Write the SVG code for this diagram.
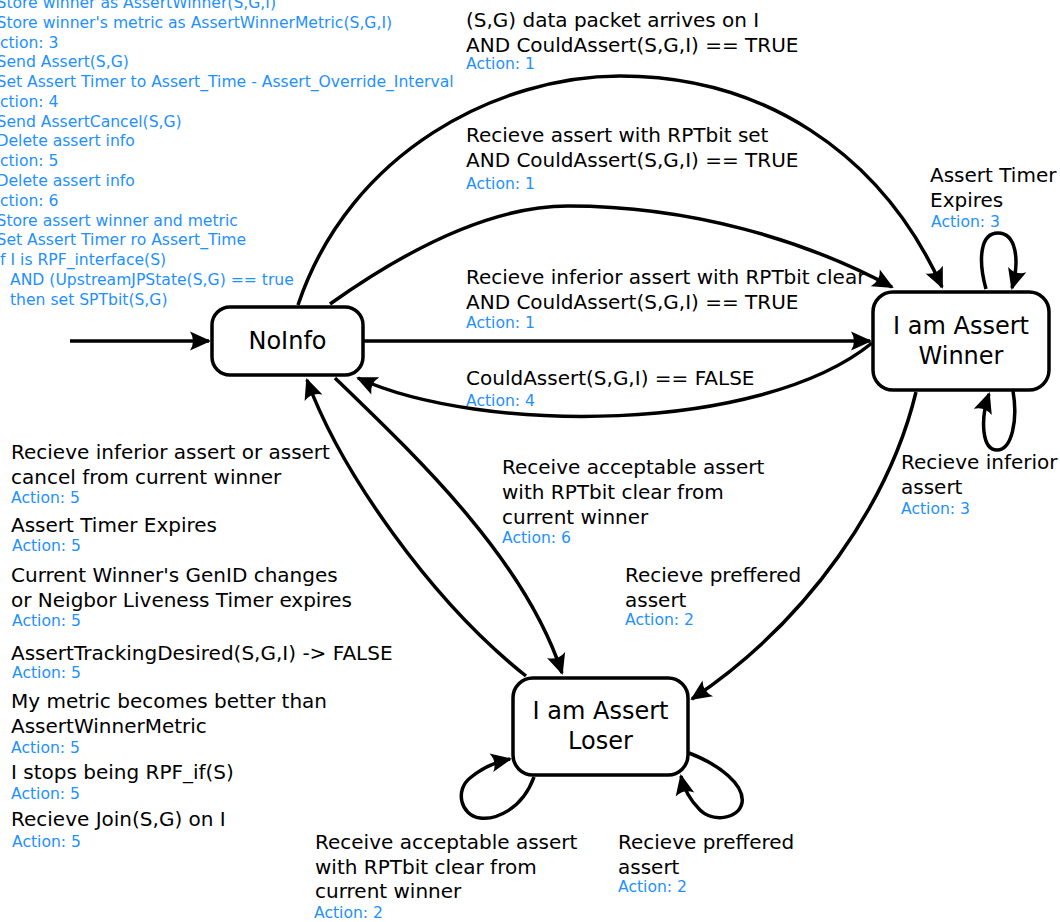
<svg xmlns="http://www.w3.org/2000/svg" width="1060" height="922" viewBox="0 0 1060 922">
  <style>
    text { font-family: "DejaVu Sans", "Liberation Sans", sans-serif; }
    .lbl { font-size: 20px; fill: #000; }
    .act { font-size: 15.6px; fill: #1e90ff; }
    .node-title { font-size: 24px; fill: #000; text-anchor: middle; }
    .state { fill: #fff; stroke: #000; stroke-width: 3.5; }
    .edge { fill: none; stroke: #000; stroke-width: 3.5; marker-end: url(#arrow); }
  </style>
  <defs>
    <marker id="arrow" markerUnits="userSpaceOnUse" markerWidth="26" markerHeight="22" viewBox="-22 -11 26 22" refX="0" refY="0" orient="auto" overflow="visible">
      <path d="M2,0 L-19,-9.5 Q-13,0 -19,9.5 Z" fill="#000"/>
    </marker>
  </defs>

  <rect width="1060" height="922" fill="#fff"/>

  <!-- action legend -->
  <g id="actions" class="act">
    <text class="act" x="-3.5" y="8">Store winner as AssertWinner(S,G,I)</text>
    <text class="act" x="-3.5" y="28">Store winner's metric as AssertWinnerMetric(S,G,I)</text>
    <text class="act" x="-10.5" y="48">Action: 3</text>
    <text class="act" x="-3.5" y="67">Send Assert(S,G)</text>
    <text class="act" x="-3.5" y="87">Set Assert Timer to Assert_Time - Assert_Override_Interval</text>
    <text class="act" x="-10.5" y="107">Action: 4</text>
    <text class="act" x="-3.5" y="127">Send AssertCancel(S,G)</text>
    <text class="act" x="-3.5" y="146">Delete assert info</text>
    <text class="act" x="-10.5" y="166">Action: 5</text>
    <text class="act" x="-3.5" y="186">Delete assert info</text>
    <text class="act" x="-10.5" y="206">Action: 6</text>
    <text class="act" x="-3.5" y="226">Store assert winner and metric</text>
    <text class="act" x="-3.5" y="245">Set Assert Timer ro Assert_Time</text>
    <text class="act" x="-4.5" y="265">If I is RPF_interface(S)</text>
    <text class="act" x="10" y="285">AND (UpstreamJPState(S,G) == true</text>
    <text class="act" x="10" y="305">then set SPTbit(S,G)</text>
  </g>

  <!-- transitions -->
  <g id="connectors">
    <path class="edge" d="M70,341 L209,341"/>
    <path class="edge" d="M364,341 L870,341"/>
    <path class="edge" d="M298,305 C350,150 500,76 620,76 C760,76 880,150 942,287"/>
    <path class="edge" d="M330,304 C420,240 500,206 568,206 C690,206 805,240 892,287"/>
    <path class="edge" d="M872,343 C760,434 480,434 358,378"/>
    <path class="edge" d="M335,378 C420,460 525,560 562,673"/>
    <path class="edge" d="M526,676 C430,600 340,470 307,380"/>
    <path class="edge" d="M916,392 C890,500 810,620 692,699"/>
    <path class="edge" d="M986,289 C978,260 980,233 998,233 C1016,233 1020,260 1012,288"/>
    <path class="edge" d="M1013,391 C1018,420 1012,450 997,450 C982,450 980,420 989,394"/>
    <path class="edge" d="M534,777 C522,810 495,820 480,818 C460,815 455,790 470,778 C482,768 495,762 510,759"/>
    <path class="edge" d="M689,753 C720,765 745,785 742,803 C738,820 712,822 700,810 C690,800 684,790 681,776"/>
  </g>

  <!-- states -->
  <g id="noinfo">
    <rect class="state" x="212" y="307" width="151" height="68" rx="18"/>
    <text class="node-title" x="287.5" y="349">NoInfo</text>
  </g>
  <g id="winner">
    <rect class="state" x="873" y="292" width="176" height="98" rx="20"/>
    <text class="node-title" x="961" y="334">I am Assert</text>
    <text class="node-title" x="961" y="364">Winner</text>
  </g>
  <g id="loser">
    <rect class="state" x="513" y="678" width="175" height="97" rx="20"/>
    <text class="node-title" x="600.5" y="719">I am Assert</text>
    <text class="node-title" x="600.5" y="749">Loser</text>
  </g>

  <!-- transition labels -->
  <g id="labels">
    <text class="lbl" x="466" y="27">(S,G) data packet arrives on I</text>
    <text class="lbl" x="466" y="52">AND CouldAssert(S,G,I) == TRUE</text>
    <text class="act" x="466" y="69">Action: 1</text>

    <text class="lbl" x="466" y="142">Recieve assert with RPTbit set</text>
    <text class="lbl" x="466" y="167">AND CouldAssert(S,G,I) == TRUE</text>
    <text class="act" x="466" y="189">Action: 1</text>

    <text class="lbl" x="466" y="284">Recieve inferior assert with RPTbit clear</text>
    <text class="lbl" x="466" y="309">AND CouldAssert(S,G,I) == TRUE</text>
    <text class="act" x="466" y="328">Action: 1</text>

    <text class="lbl" x="466" y="385">CouldAssert(S,G,I) == FALSE</text>
    <text class="act" x="466" y="406">Action: 4</text>

    <text class="lbl" x="930" y="182">Assert Timer</text>
    <text class="lbl" x="930" y="207">Expires</text>
    <text class="act" x="931" y="227">Action: 3</text>

    <text class="lbl" x="901" y="469">Recieve inferior</text>
    <text class="lbl" x="901" y="494">assert</text>
    <text class="act" x="901" y="514">Action: 3</text>

    <text class="lbl" x="502" y="474">Receive acceptable assert</text>
    <text class="lbl" x="502" y="499">with RPTbit clear from</text>
    <text class="lbl" x="502" y="524">current winner</text>
    <text class="act" x="502" y="543">Action: 6</text>

    <text class="lbl" x="625" y="582">Recieve preffered</text>
    <text class="lbl" x="625" y="607">assert</text>
    <text class="act" x="625" y="625">Action: 2</text>

    <text class="lbl" x="11" y="459">Recieve inferior assert or assert</text>
    <text class="lbl" x="11" y="484">cancel from current winner</text>
    <text class="act" x="11" y="503">Action: 5</text>
    <text class="lbl" x="11" y="532">Assert Timer Expires</text>
    <text class="act" x="12" y="551">Action: 5</text>
    <text class="lbl" x="11" y="582">Current Winner's GenID changes</text>
    <text class="lbl" x="11" y="607">or Neigbor Liveness Timer expires</text>
    <text class="act" x="12" y="626">Action: 5</text>
    <text class="lbl" x="11" y="660">AssertTrackingDesired(S,G,I) -&gt; FALSE</text>
    <text class="act" x="12" y="678">Action: 5</text>
    <text class="lbl" x="11" y="708">My metric becomes better than</text>
    <text class="lbl" x="11" y="733">AssertWinnerMetric</text>
    <text class="act" x="11" y="753">Action: 5</text>
    <text class="lbl" x="11" y="779">I stops being RPF_if(S)</text>
    <text class="act" x="11" y="799">Action: 5</text>
    <text class="lbl" x="11" y="826">Recieve Join(S,G) on I</text>
    <text class="act" x="12" y="847">Action: 5</text>

    <text class="lbl" x="315" y="849">Receive acceptable assert</text>
    <text class="lbl" x="315" y="874">with RPTbit clear from</text>
    <text class="lbl" x="315" y="898">current winner</text>
    <text class="act" x="314" y="918">Action: 2</text>

    <text class="lbl" x="618" y="849">Recieve preffered</text>
    <text class="lbl" x="618" y="874">assert</text>
    <text class="act" x="618" y="892">Action: 2</text>
  </g>
</svg>
